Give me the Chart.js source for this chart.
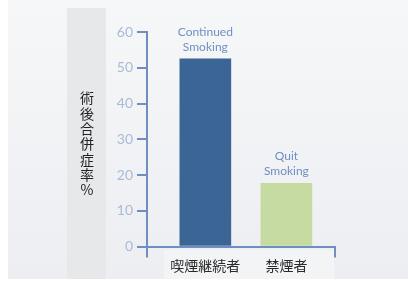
<!DOCTYPE html>
<html>
<head>
<meta charset="utf-8">
<script src="https://cdn.jsdelivr.net/npm/chart.js@4.4.1/dist/chart.umd.min.js"></script>
<style>
    html, body { margin: 0; padding: 0; background: #fff; }
    #wrap { width: 408px; height: 281px; }
</style>
</head>
<body>
<div id="wrap"><canvas id="graph"></canvas></div>
<script>
var categories = ['喫煙継続者', '禁煙者'];
var barNotes = [['Continued', 'Smoking'], ['Quit', 'Smoking']];
var rates = [52.5, 17.7];
var yMin = 0;
var yMax = 60;
var yStep = 10;
var yTitle = '術後合併症率%';

var axisColor = '#6f8fc1';
var tickColor = '#a9bad6';
var barColors = ['#3a6594', '#c5dba1'];

// x scale range so the two bars sit where they do in the picture
var xMin = -0.72;
var xMax = 1.6;

var points = [];
for (let i = 0; i < rates.length; i++) {
    points.push({x: i, y: rates[i]});
}

var decor = {
    id: 'decor',
    beforeDraw: function (chart) {
        var ctx = chart.ctx;
        ctx.save();
        ctx.fillStyle = '#ffffff';
        ctx.fillRect(0, 0, chart.width, chart.height);
        var g = ctx.createLinearGradient(0, 0, 0, chart.height);
        g.addColorStop(0, '#f6f7f8');
        g.addColorStop(1, '#eceef2');
        ctx.fillStyle = g;
        ctx.fillRect(8, 0, chart.width - 8, 279);
        // grey column behind the axis title
        ctx.fillStyle = '#e7e8ea';
        ctx.fillRect(67, 8, 39, 271);
        // light strip behind the category labels
        ctx.fillStyle = '#f3f4f5';
        ctx.fillRect(164, 250, 170, 29);
        // vertical title, one character per line
        ctx.fillStyle = '#222';
        ctx.font = '14px "Noto Sans CJK JP"';
        ctx.textAlign = 'center';
        ctx.textBaseline = 'middle';
        var chars = Array.from(yTitle);
        for (let i = 0; i < chars.length; i++) {
            ctx.fillText(chars[i], 87, 98 + i * 15.3);
        }
        ctx.restore();
    },
    afterDatasetsDraw: function (chart) {
        var ctx = chart.ctx;
        var bars = chart.getDatasetMeta(0).data;
        ctx.save();
        ctx.fillStyle = axisColor;
        ctx.font = '12px Lato';
        ctx.textAlign = 'center';
        ctx.textBaseline = 'middle';
        for (let i = 0; i < bars.length; i++) {
            var lines = barNotes[i];
            for (let j = 0; j < lines.length; j++) {
                ctx.fillText(lines[j], bars[i].x, bars[i].y - 12 - (lines.length - 1 - j) * 15);
            }
        }
        ctx.restore();
    }
};

new Chart(document.getElementById('graph').getContext('2d'), {
    type: 'bar',
    data: {
        datasets: [{
            data: points,
            backgroundColor: barColors,
            borderWidth: 0,
            barThickness: 51
        }]
    },
    options: {
        responsive: true,
        maintainAspectRatio: false,
        animation: false,
        layout: {padding: {top: 32, right: 73, left: 0, bottom: 0}},
        plugins: {legend: {display: false}, tooltip: {enabled: false}},
        scales: {
            x: {
                type: 'linear',
                min: xMin,
                max: xMax,
                offset: false,
                afterBuildTicks: function (scale) {
                    scale.ticks = [{value: xMin}, {value: 0}, {value: 1}, {value: xMax}];
                },
                afterFit: function (scale) { scale.height = 34.5; },
                ticks: {
                    autoSkip: false,
                    maxRotation: 0,
                    padding: 0,
                    color: '#2a2a2a',
                    font: {family: '"Noto Sans CJK JP"', size: 14},
                    callback: function (v) {
                        return categories[v] !== undefined && Number.isInteger(v) ? categories[v] : '';
                    }
                },
                grid: {
                    offset: false,
                    drawOnChartArea: false,
                    tickLength: 11,
                    lineWidth: 2,
                    color: function (c) {
                        if (c.tick && Number.isInteger(c.tick.value) && categories[c.tick.value] !== undefined) return 'rgba(0,0,0,0)';
                        return axisColor;
                    }
                },
                border: {display: true, color: axisColor, width: 2}
            },
            y: {
                min: yMin,
                max: yMax,
                afterFit: function (scale) { scale.width = 147; },
                ticks: {
                    stepSize: yStep,
                    padding: 4,
                    color: tickColor,
                    font: {family: 'Lato', size: 14}
                },
                grid: {
                    drawOnChartArea: false,
                    tickLength: 10,
                    lineWidth: 2,
                    color: axisColor
                },
                border: {display: true, color: axisColor, width: 2}
            }
        }
    },
    plugins: [decor]
});
</script>
</body>
</html>
